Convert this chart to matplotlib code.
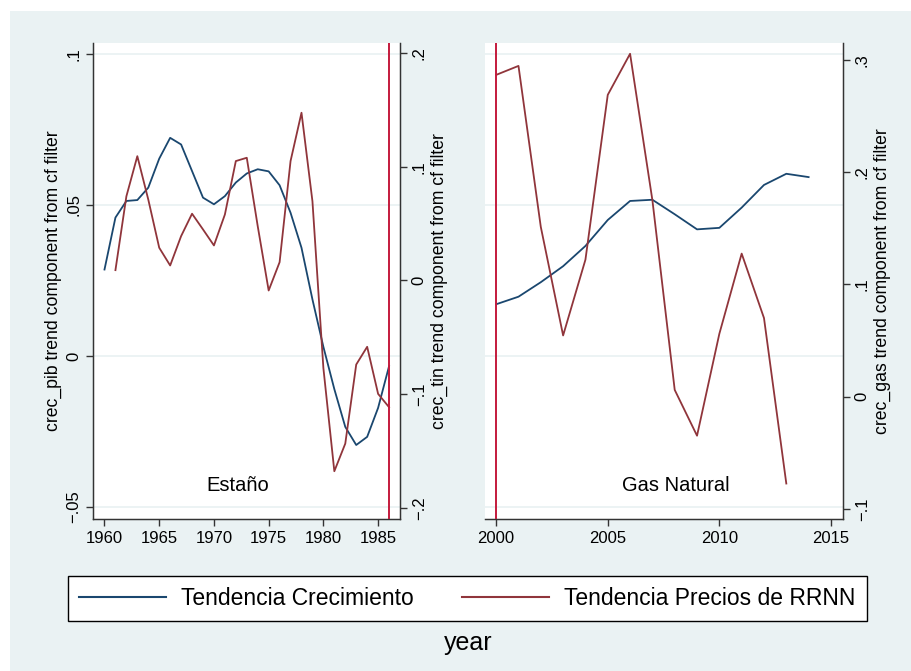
import matplotlib.pyplot as plt
from matplotlib.patches import Rectangle
from matplotlib.lines import Line2D

plt.rcParams['font.family'] = ['Liberation Sans', 'DejaVu Sans']

# Estaño panel
years_tin = list(range(1960, 1987))
pib_tin = [0.0286, 0.0458, 0.0513, 0.0516, 0.0557, 0.0653, 0.0722, 0.0700, 0.0612,
           0.0524, 0.0502, 0.0529, 0.0574, 0.0604, 0.0618, 0.0611, 0.0565, 0.0474,
           0.0358, 0.0187, 0.0030, -0.0110, -0.0235, -0.0295, -0.0268, -0.0172, -0.0034]
years_tin_price = list(range(1961, 1987))
tin = [0.0091, 0.074, 0.1093, 0.0712, 0.0288, 0.0132, 0.039, 0.0587, 0.0449, 0.0308,
       0.058, 0.105, 0.1079, 0.0478, -0.0088, 0.0161, 0.105, 0.1475, 0.0697, -0.077,
       -0.1677, -0.1434, -0.0739, -0.0583, -0.0997, -0.1114]

# Gas Natural panel
years_gas = list(range(2000, 2015))
pib_gas = [0.0171, 0.0196, 0.0244, 0.0297, 0.0364, 0.045, 0.0513, 0.0517, 0.0469,
           0.0419, 0.0424, 0.0491, 0.0566, 0.0603, 0.0592]
years_gas_price = list(range(2000, 2014))
gas = [0.2866, 0.2946, 0.1512, 0.0545, 0.122, 0.2688, 0.3054, 0.175, 0.006,
       -0.0348, 0.056, 0.1274, 0.0700, -0.0774]

pib_ticks = [-0.05, 0, 0.05, 0.1]
pib_labels = ['\u2212.05', '0', '.05', '.1']
tin_ticks = [-0.2, -0.1, 0, 0.1, 0.2]
tin_labels = ['\u2212.2', '\u2212.1', '0', '.1', '.2']
gas_ticks = [-0.1, 0, 0.1, 0.2, 0.3]
gas_labels = ['\u2212.1', '0', '.1', '.2', '.3']

navy = '#1a476f'
maroon = '#90353b'
vcol = '#c41a3c'
bg = '#eaf2f3'
spc = '#333333'

fig = plt.figure(figsize=(9.12, 6.71), dpi=100)
fig.patch.set_facecolor('white')
fig.add_artist(Rectangle((10 / 912, 0), 1, 1 - 11 / 671, transform=fig.transFigure,
                         facecolor=bg, edgecolor='none', zorder=-10))

H = 671.0
W = 912.0
bottom = 1 - 519 / H
height = (519 - 43) / H
ax1 = fig.add_axes([93 / W, bottom, (400 - 93) / W, height])
ax2 = fig.add_axes([485 / W, bottom, (843 - 485) / W, height])


def style(ax):
    ax.set_facecolor('white')
    ax.spines['top'].set_visible(False)
    for s in ax.spines.values():
        s.set_color(spc)
        s.set_linewidth(1.0)
    ax.tick_params(direction='out', length=5, width=1, color=spc, labelsize=12)


# left panel
style(ax1)
ax1.set_ylim(-0.054, 0.1036)
ax1.set_xlim(1958.95, 1987.0)
for t in pib_ticks:
    ax1.axhline(t, color=bg, lw=1.3, zorder=0)
ax1.plot(years_tin, pib_tin, color=navy, lw=1.3, zorder=3)
ax1.set_yticks(pib_ticks)
ax1.set_yticklabels(pib_labels, rotation=90, va='center')
ax1.set_xticks([1960, 1965, 1970, 1975, 1980, 1985])
ax1.set_ylabel('crec_pib trend component from cf filter', fontsize=12.7, labelpad=3)
ax1.text(0.472, 0.07, 'Estaño', transform=ax1.transAxes, ha='center', va='center',
         fontsize=14.5)

ax1r = ax1.twinx()
ax1r.spines['top'].set_visible(False)
for s in ax1r.spines.values():
    s.set_color(spc)
ax1r.tick_params(direction='out', length=5, width=1, color=spc, labelsize=12)
ax1r.set_ylim(-0.2097, 0.2088)
ax1r.plot(years_tin_price, tin, color=maroon, lw=1.3)
ax1r.axvline(1986, color=vcol, lw=1.4)
ax1r.set_yticks(tin_ticks)
ax1r.set_yticklabels(tin_labels, rotation=90, va='center')
ax1r.set_ylabel('crec_tin trend component from cf filter', fontsize=12.7, labelpad=3)

# right panel
style(ax2)
ax2.spines['left'].set_visible(False)
ax2.set_ylim(-0.054, 0.1036)
ax2.set_xlim(1999.5, 2015.54)
for t in pib_ticks:
    ax2.axhline(t, color=bg, lw=1.3, zorder=0)
ax2.plot(years_gas, pib_gas, color=navy, lw=1.3, zorder=3)
ax2.set_yticks([])
ax2.set_xticks([2000, 2005, 2010, 2015])
ax2.text(0.534, 0.07, 'Gas Natural', transform=ax2.transAxes, ha='center', va='center',
         fontsize=14.5)

ax2r = ax2.twinx()
ax2r.spines['top'].set_visible(False)
ax2r.spines['left'].set_visible(False)
for s in ax2r.spines.values():
    s.set_color(spc)
ax2r.tick_params(direction='out', length=5, width=1, color=spc, labelsize=12)
ax2r.set_ylim(-0.109, 0.315)
ax2r.plot(years_gas_price, gas, color=maroon, lw=1.3)
ax2r.axvline(2000, color=vcol, lw=1.4)
ax2r.set_yticks(gas_ticks)
ax2r.set_yticklabels(gas_labels, rotation=90, va='center')
ax2r.set_ylabel('crec_gas trend component from cf filter', fontsize=12.7, labelpad=3)

handles = [Line2D([], [], color=navy, lw=1.5), Line2D([], [], color=maroon, lw=1.5)]
leg = fig.legend(handles, ['Tendencia Crecimiento', 'Tendencia Precios de RRNN'],
                 loc='center', bbox_to_anchor=((63 + 872) / 2 / W, 1 - 598.5 / H),
                 ncol=2, fontsize=16.5, frameon=True, fancybox=False,
                 handlelength=3.8, handletextpad=0.65, columnspacing=2.1,
                 borderpad=0.5, borderaxespad=0)
leg.get_frame().set_edgecolor('black')
leg.get_frame().set_linewidth(1.0)
leg.get_frame().set_facecolor('white')
leg.get_frame().set_alpha(1)

fig.text(468 / W, 1 - 643 / H, 'year', ha='center', va='center', fontsize=18)

fig.savefig('out.png', dpi=100)
